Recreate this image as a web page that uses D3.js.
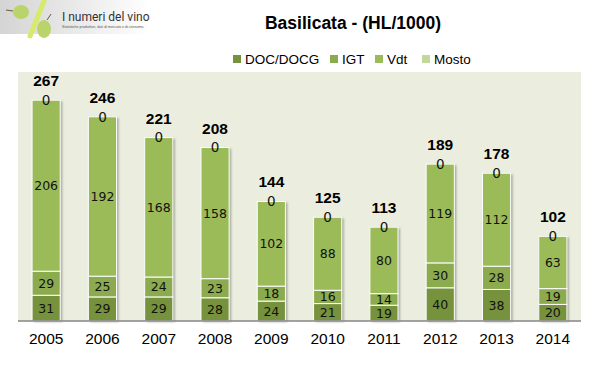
<!DOCTYPE html>
<html>
<head>
<meta charset="utf-8">
<script src="https://cdn.jsdelivr.net/npm/d3@7"></script>
<style>
  body { margin: 0; background: #fff; }
  svg { display: block; }
</style>
</head>
<body>
<svg id="canvas" width="599" height="376"></svg>
<script>
// chart values
let years = ["2005", "2006", "2007", "2008", "2009", "2010", "2011", "2012", "2013", "2014"]
let seriesNames = ["DOC/DOCG", "IGT", "Vdt", "Mosto"]
let doc = [31, 29, 29, 28, 24, 21, 19, 40, 38, 20]
let igt = [29, 25, 24, 23, 18, 16, 14, 30, 28, 19]
let vdt = [206, 192, 168, 158, 102, 88, 80, 119, 112, 63]
let mosto = [0, 0, 0, 0, 0, 0, 0, 0, 0, 0]
let totals = [267, 246, 221, 208, 144, 125, 113, 189, 178, 102]

let colors = ["#76923c", "#8cab4f", "#9bbb59", "#c3d69b"]

let svg = d3.select("#canvas")

// drop shadow for bars
let defs = svg.append("defs")
let shadow = defs.append("filter").attr("id", "shadow")
    .attr("x", "-20%").attr("y", "-5%").attr("width", "150%").attr("height", "115%")
shadow.append("feDropShadow")
    .attr("dx", 2).attr("dy", 1).attr("stdDeviation", 1.2)
    .attr("flood-color", "#000").attr("flood-opacity", 0.3)

let logoGrad = defs.append("linearGradient").attr("id", "logoGrad")
    .attr("x1", 0).attr("y1", 0).attr("x2", 1).attr("y2", 0)
logoGrad.append("stop").attr("offset", "0%").attr("stop-color", "#d4d4d4")
logoGrad.append("stop").attr("offset", "70%").attr("stop-color", "#f2f2f2")
logoGrad.append("stop").attr("offset", "100%").attr("stop-color", "#ffffff")

// logo
let logo = svg.append("g")
logo.append("rect").attr("x", 0).attr("y", 0).attr("width", 150).attr("height", 34)
    .attr("fill", "url(#logoGrad)")
logo.append("line").attr("x1", 30).attr("y1", 36).attr("x2", 44).attr("y2", 1)
    .attr("stroke", "#d7ea6a").attr("stroke-width", 5).attr("stroke-linecap", "round")
logo.append("ellipse").attr("cx", 21).attr("cy", 12).attr("rx", 8).attr("ry", 7)
    .attr("fill", "#b9d46a")
logo.append("line").attr("x1", 6).attr("y1", 10).attr("x2", 13).attr("y2", 11)
    .attr("stroke", "#6b5a3a").attr("stroke-width", 1)
logo.append("ellipse").attr("cx", 44).attr("cy", 29).attr("rx", 7).attr("ry", 9)
    .attr("fill", "#b9d46a")
logo.append("line").attr("x1", 47).attr("y1", 20).attr("x2", 51).attr("y2", 14)
    .attr("stroke", "#6b5a3a").attr("stroke-width", 1)
logo.append("text").attr("x", 62).attr("y", 21)
    .attr("font-family", "Roboto, 'Liberation Sans', sans-serif")
    .attr("font-size", 12).attr("fill", "#333")
    .text("I numeri del vino")
logo.append("text").attr("x", 62).attr("y", 27.5)
    .attr("font-family", "'Liberation Sans', sans-serif")
    .attr("font-size", 3.6).attr("fill", "#555")
    .text("Statistiche produttive, dati di mercato e di consumo.")

// title
svg.append("text").attr("x", 353).attr("y", 29)
    .attr("text-anchor", "middle")
    .attr("font-family", "'Liberation Sans', Arial, sans-serif")
    .attr("font-weight", "bold").attr("font-size", 17.5).attr("fill", "#000")
    .text("Basilicata - (HL/1000)")

// legend
let legendX = [233, 330, 375, 422]
let legend = svg.selectAll(".legend")
    .data(seriesNames)
    .enter()
    .append("g")
    .attr("class", "legend")
    .attr("transform", (d, i) => "translate(" + legendX[i] + ",53)")
legend.append("rect").attr("width", 8).attr("height", 8).attr("y", 2)
    .attr("fill", (d, i) => colors[i])
legend.append("text").attr("x", 12).attr("y", 11)
    .attr("font-family", "'Liberation Sans', Arial, sans-serif")
    .attr("font-size", 13.5).attr("fill", "#000")
    .text(d => d)

// plot area
let plotLeft = 18, plotRight = 581, plotTop = 72, plotBottom = 321

svg.append("rect").attr("x", plotLeft).attr("y", plotTop)
    .attr("width", plotRight - plotLeft).attr("height", plotBottom - plotTop)
    .attr("fill", "#ebeedf")

let x = d3.scaleBand().domain(years).range([plotLeft, plotRight])
    .paddingInner(0.5).paddingOuter(0.25)
let y = d3.scaleLinear().domain([0, 300]).range([plotBottom, plotTop])

let table = years.map((yr, i) => ({
    year: yr, "DOC/DOCG": doc[i], IGT: igt[i], Vdt: vdt[i], Mosto: mosto[i], total: totals[i]
}))
let stacked = d3.stack().keys(seriesNames)(table)

// shadow under the bars as a whole
svg.append("g")
    .selectAll("rect")
    .data(table)
    .enter()
    .append("rect")
    .attr("x", d => x(d.year))
    .attr("y", (d, i) => y(doc[i] + igt[i] + vdt[i] + mosto[i]))
    .attr("width", x.bandwidth())
    .attr("height", (d, i) => plotBottom - y(doc[i] + igt[i] + vdt[i] + mosto[i]))
    .attr("fill", "#999")
    .attr("filter", "url(#shadow)")

let layers = svg.selectAll(".layer")
    .data(stacked)
    .enter()
    .append("g")
    .attr("class", "layer")
    .attr("fill", (d, i) => colors[i])

layers.selectAll("rect")
    .data(d => d)
    .enter()
    .append("rect")
    .attr("x", d => x(d.data.year))
    .attr("y", d => y(d[1]))
    .attr("width", x.bandwidth())
    .attr("height", d => y(d[0]) - y(d[1]))
    .attr("stroke", "#fff")
    .attr("stroke-width", 1)

// segment labels
layers.selectAll("text")
    .data(d => d)
    .enter()
    .append("text")
    .attr("x", d => x(d.data.year) + x.bandwidth() / 2)
    .attr("y", d => (y(d[0]) + y(d[1])) / 2)
    .attr("dy", "0.36em")
    .attr("text-anchor", "middle")
    .attr("font-family", "'DejaVu Sans', Verdana, sans-serif")
    .attr("font-size", d => (d[1] - d[0]) === 0 ? 13.5 : 12.5)
    .attr("fill", "#111")
    .text(d => d[1] - d[0])

// totals
svg.selectAll(".total")
    .data(table)
    .enter()
    .append("text")
    .attr("class", "total")
    .attr("x", d => x(d.year) + x.bandwidth() / 2)
    .attr("y", d => y(d["DOC/DOCG"] + d.IGT + d.Vdt + d.Mosto) - 14)
    .attr("text-anchor", "middle")
    .attr("font-family", "'Liberation Sans', Arial, sans-serif")
    .attr("font-weight", "bold").attr("font-size", 15.5).attr("fill", "#000")
    .text(d => d.total)

// x axis
let xAxis = svg.append("g")
    .attr("transform", "translate(0," + plotBottom + ")")
    .call(d3.axisBottom(x).tickSize(0).tickPadding(12))
xAxis.select(".domain").attr("stroke", "#868686").attr("stroke-width", 1.5)
    .attr("d", "M" + plotLeft + ",0H" + plotRight)
xAxis.selectAll("text")
    .attr("font-family", "'Liberation Sans', Arial, sans-serif")
    .attr("font-size", 15.5).attr("fill", "#000")
</script>
</body>
</html>
